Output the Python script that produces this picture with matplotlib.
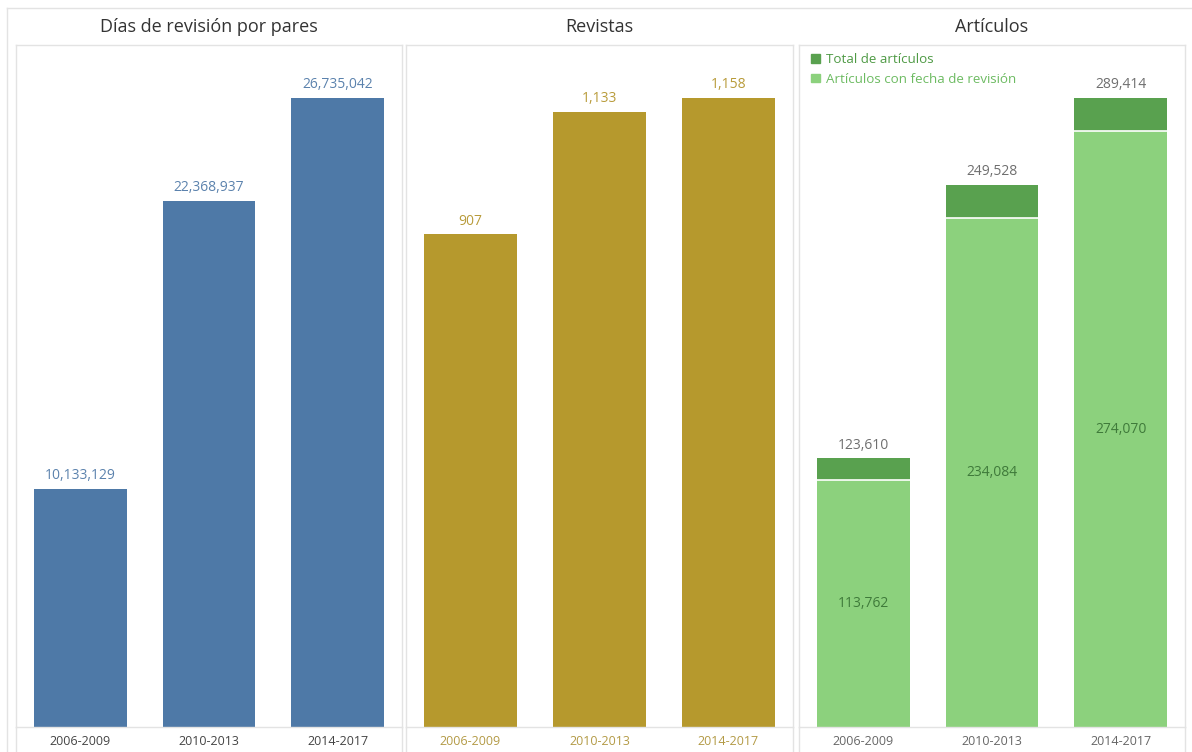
import matplotlib.pyplot as plt
from matplotlib.lines import Line2D
from matplotlib.patches import Patch

plt.rcParams['font.family'] = ['Open Sans', 'DejaVu Sans']

periods = ["2006-2009", "2010-2013", "2014-2017"]
review_days = [10133129, 22368937, 26735042]
journals = [907, 1133, 1158]
articles_total = [123610, 249528, 289414]
articles_with_date = [113762, 234084, 274070]

titles = ["Días de revisión por pares", "Revistas", "Artículos"]
legend_labels = ["Total de artículos", "Artículos con fecha de revisión"]

BLUE = "#4e79a7"
GOLD = "#b6992d"
DARK_GREEN = "#59a14f"
LIGHT_GREEN = "#8cd17d"
BORDER = "#e3e3e3"

W, H = 1192, 752
fig = plt.figure(figsize=(W / 100, H / 100), dpi=100)

# panel extents in pixels (left, right); shared top and baseline
panels_px = [(16, 402), (406, 793), (799, 1185)]
top_px, base_px = 45, 727


def fx(x):
    return x / W


def fy(y):
    return 1 - y / H


# outer frame
fig.add_artist(Line2D([fx(7), 1], [fy(8), fy(8)], color=BORDER, lw=1))
fig.add_artist(Line2D([fx(7), fx(7)], [fy(8), 0], color=BORDER, lw=1))

axes = []
for (l, r) in panels_px:
    ax = fig.add_axes([fx(l), fy(base_px), fx(r - l), (base_px - top_px) / H])
    for s in ax.spines.values():
        s.set_color(BORDER)
        s.set_linewidth(1)
    ax.set_xlim(-0.5, 2.5)
    ax.set_yticks([])
    ax.set_xticks(range(len(periods)))
    ax.tick_params(axis='x', length=0, pad=6)
    # side borders continue under the baseline
    for x in (l, r):
        fig.add_artist(Line2D([fx(x), fx(x)], [fy(base_px), 0], color=BORDER, lw=1))
    axes.append(ax)

bw = 0.72
head = 682 / 629
label_size = 10

# Peer review days
ax = axes[0]
ax.bar(range(3), review_days, width=bw, color=BLUE)
ax.set_ylim(0, max(review_days) * head)
for i, v in enumerate(review_days):
    ax.annotate(f"{v:,}", (i, v), xytext=(0, 4), textcoords="offset points",
                ha="center", va="bottom", fontsize=label_size, color="#5b82ad")
ax.set_xticklabels(periods, fontsize=9, color="#444444")

# Journals
ax = axes[1]
ax.bar(range(3), journals, width=bw, color=GOLD)
ax.set_ylim(0, max(journals) * head)
for i, v in enumerate(journals):
    ax.annotate(f"{v:,}", (i, v), xytext=(0, 4), textcoords="offset points",
                ha="center", va="bottom", fontsize=label_size, color="#b89b3a")
ax.set_xticklabels(periods, fontsize=9, color="#b39a45")

# Articles: total with the dated subset in front
ax = axes[2]
ax.bar(range(3), articles_total, width=bw, color=DARK_GREEN)
ax.bar(range(3), articles_with_date, width=bw, color=LIGHT_GREEN)
ax.set_ylim(0, max(articles_total) * head)
for i, (t, d) in enumerate(zip(articles_total, articles_with_date)):
    ax.plot([i - bw / 2, i + bw / 2], [d, d], color="white", lw=1.2,
            solid_capstyle="butt")
    ax.annotate(f"{t:,}", (i, t), xytext=(0, 4), textcoords="offset points",
                ha="center", va="bottom", fontsize=label_size, color="#6f6f6f")
    ax.text(i, d / 2, f"{d:,}", ha="center", va="center", fontsize=label_size,
            color="#3f7a3a")
ax.set_xticklabels(periods, fontsize=9, color="#666666")

handles = [Patch(color=DARK_GREEN), Patch(color=LIGHT_GREEN)]
leg = ax.legend(handles, legend_labels, loc="upper left", frameon=False,
                fontsize=9.6, handlelength=0.65, handleheight=0.65,
                handletextpad=0.5, labelspacing=0.5,
                borderaxespad=0.0, borderpad=0.0,
                bbox_to_anchor=(12 / 386, 1 - 8 / 682))
for txt, c in zip(leg.get_texts(), ["#4f9a45", "#6dbb62"]):
    txt.set_color(c)

# panel titles
for (l, r), t in zip(panels_px, titles):
    fig.text(fx((l + r) / 2), fy(27), t, ha="center", va="center",
             fontsize=13, color="#333333")

fig.savefig("out.png", dpi=100, facecolor="white")
